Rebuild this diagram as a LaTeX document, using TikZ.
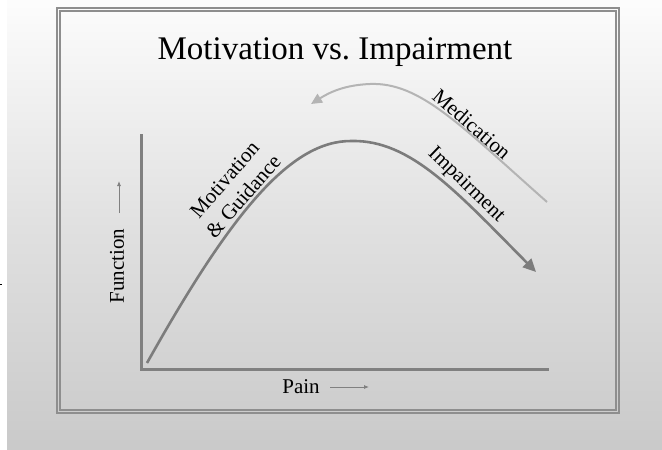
\documentclass[tikz,border=0pt]{standalone}
\usepackage{fontspec}
\setmainfont{Liberation Serif}
\usetikzlibrary{arrows.meta}
\definecolor{axisgray}{HTML}{808080}
\definecolor{curvegray}{HTML}{7C7C7C}
\definecolor{medgray}{HTML}{B4B4B4}
\definecolor{framegray}{HTML}{8E8E8E}
\frenchspacing
\begin{document}
\begin{tikzpicture}[x=1pt,y=-1pt,
  lbl/.style={inner sep=0pt,font=\fontsize{21}{25}\selectfont},
  axisline/.style={draw=axisgray,line width=3pt},
  smallarrow/.style={draw=axisgray,line width=0.8pt,-{Latex[length=5pt,width=4pt]}},
  framebox/.style={draw=framegray,line width=1.2pt}]
\useasboundingbox (0,0) rectangle (662,450);
% background
\fill[white] (0,0) rectangle (662,450);
\shade[top color=white!99!black, bottom color=black!21, middle color=black!12] (7,0) rectangle (662,450);
\draw[black,line width=1pt] (0,284) -- (2,284);
% frame
\draw[framebox] (57,8) rectangle (619,413);
\draw[framebox] (60,11) rectangle (616,410);
% title
\node[inner sep=0pt,anchor=base,font=\fontsize{33}{40}\selectfont] (title) at (335,59) {Motivation vs. Impairment};
% axes
\coordinate (top) at (141,135);
\coordinate (origin) at (141,369);
\coordinate (right) at (547,369);
\draw[axisline,line cap=rect] (top) -- (origin) -- (right);
% axis labels
\node[lbl,rotate=90] (func) at (117,266) {Function};
\coordinate (fa1) at (119,213);
\coordinate (fa2) at (119,181);
\draw[smallarrow] (fa1) -- (fa2);
\node[lbl] (pain) at (301,387) {Pain};
\coordinate (pa1) at (330,387);
\coordinate (pa2) at (369,387);
\draw[smallarrow] (pa1) -- (pa2);
% impairment curve
\coordinate (cstart) at (147,363);
\coordinate (cpeak) at (352,141);
\coordinate (cend) at (536,272);
\draw[draw=curvegray,line width=2.6pt,-{Triangle[length=13pt,width=12pt]}]
  (cstart) .. controls (230,215) and (290,140) .. (cpeak)
  .. controls (410,140) and (455,190) .. (cend);
% medication curve
\coordinate (mstart) at (547,202);
\coordinate (mpeak) at (370,84);
\coordinate (mend) at (311,104);
\draw[draw=medgray,line width=2pt,-{Triangle[length=11pt,width=10pt]}]
  (mstart) .. controls (460,125) and (420,82) .. (mpeak)
  .. controls (345,85) and (330,92) .. (mend);
% curve labels
\node[lbl,rotate=-41] (med) at (472,124) {Medication};
\node[lbl,rotate=-44] (imp) at (466,185) {Impairment};
\node[lbl,rotate=49,align=center] (mot) at (234,188) {Motivation\\\& Guidance};
\end{tikzpicture}
\end{document}
